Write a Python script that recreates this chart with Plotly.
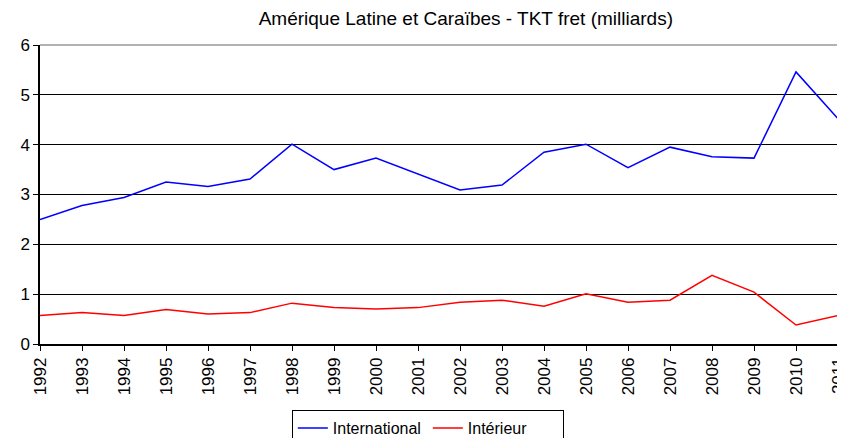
import plotly.graph_objects as go

years = list(range(1992, 2012))
international = [2.50, 2.78, 2.94, 3.25, 3.16, 3.31, 4.01, 3.50, 3.73, 3.41,
                 3.09, 3.19, 3.85, 4.01, 3.54, 3.95, 3.76, 3.73, 5.46, 4.52]
interieur = [0.57, 0.63, 0.57, 0.69, 0.60, 0.63, 0.82, 0.73, 0.70, 0.73,
             0.84, 0.88, 0.76, 1.01, 0.84, 0.88, 1.38, 1.04, 0.38, 0.57]
yticks = [0, 1, 2, 3, 4, 5, 6]

fig = go.Figure()
fig.add_trace(go.Scatter(x=years, y=international, mode="lines", name="International",
                         line=dict(color="#0000FF", width=1.5)))
fig.add_trace(go.Scatter(x=years, y=interieur, mode="lines", name="Intérieur",
                         line=dict(color="#FF0000", width=1.5)))

# page body has an 8px margin, so the figure is offset by 8px
fig.update_layout(
    width=837, height=430,
    margin=dict(l=32, r=7, t=37, b=94, autoexpand=False),
    paper_bgcolor="white", plot_bgcolor="white",
    font=dict(family="Liberation Sans, Arial", size=16, color="black"),
    title=dict(text="Amérique Latine et Caraïbes - TKT fret (milliards)",
               x=0.547, xanchor="center", y=0.977, yanchor="middle",
               font=dict(size=19, color="black")),
    legend=dict(orientation="h", x=0.486, xanchor="center", y=-0.221, yanchor="top",
                bordercolor="black", borderwidth=1, bgcolor="white",
                font=dict(size=16), tracegroupgap=0, entrywidth=90),
    showlegend=True,
)
fig.update_xaxes(range=[1992, 2011], tickvals=years, ticktext=[str(y) for y in years],
                 tickangle=-90, ticks="outside", ticklen=5, tickcolor="black",
                 showline=True, linecolor="black", linewidth=1.5, mirror=False,
                 showgrid=False, zeroline=False, tickfont=dict(size=17), automargin=False,
                 ticklabeloverflow="allow")
fig.update_yaxes(range=[0, 6], tickvals=yticks, ticks="outside", ticklen=5, tickcolor="black",
                 showline=True, linecolor="black", linewidth=1.5,
                 showgrid=True, gridcolor="black", gridwidth=1, zeroline=False,
                 tickfont=dict(size=17), automargin=False)
# gray border on top and right
fig.add_shape(type="line", xref="paper", yref="paper", x0=0, x1=1, y0=1, y1=1,
              line=dict(color="#999999", width=1.5))
fig.add_shape(type="line", xref="paper", yref="paper", x0=1, x1=1, y0=0, y1=1,
              line=dict(color="#999999", width=1.5))

fig.write_html("out.html")
